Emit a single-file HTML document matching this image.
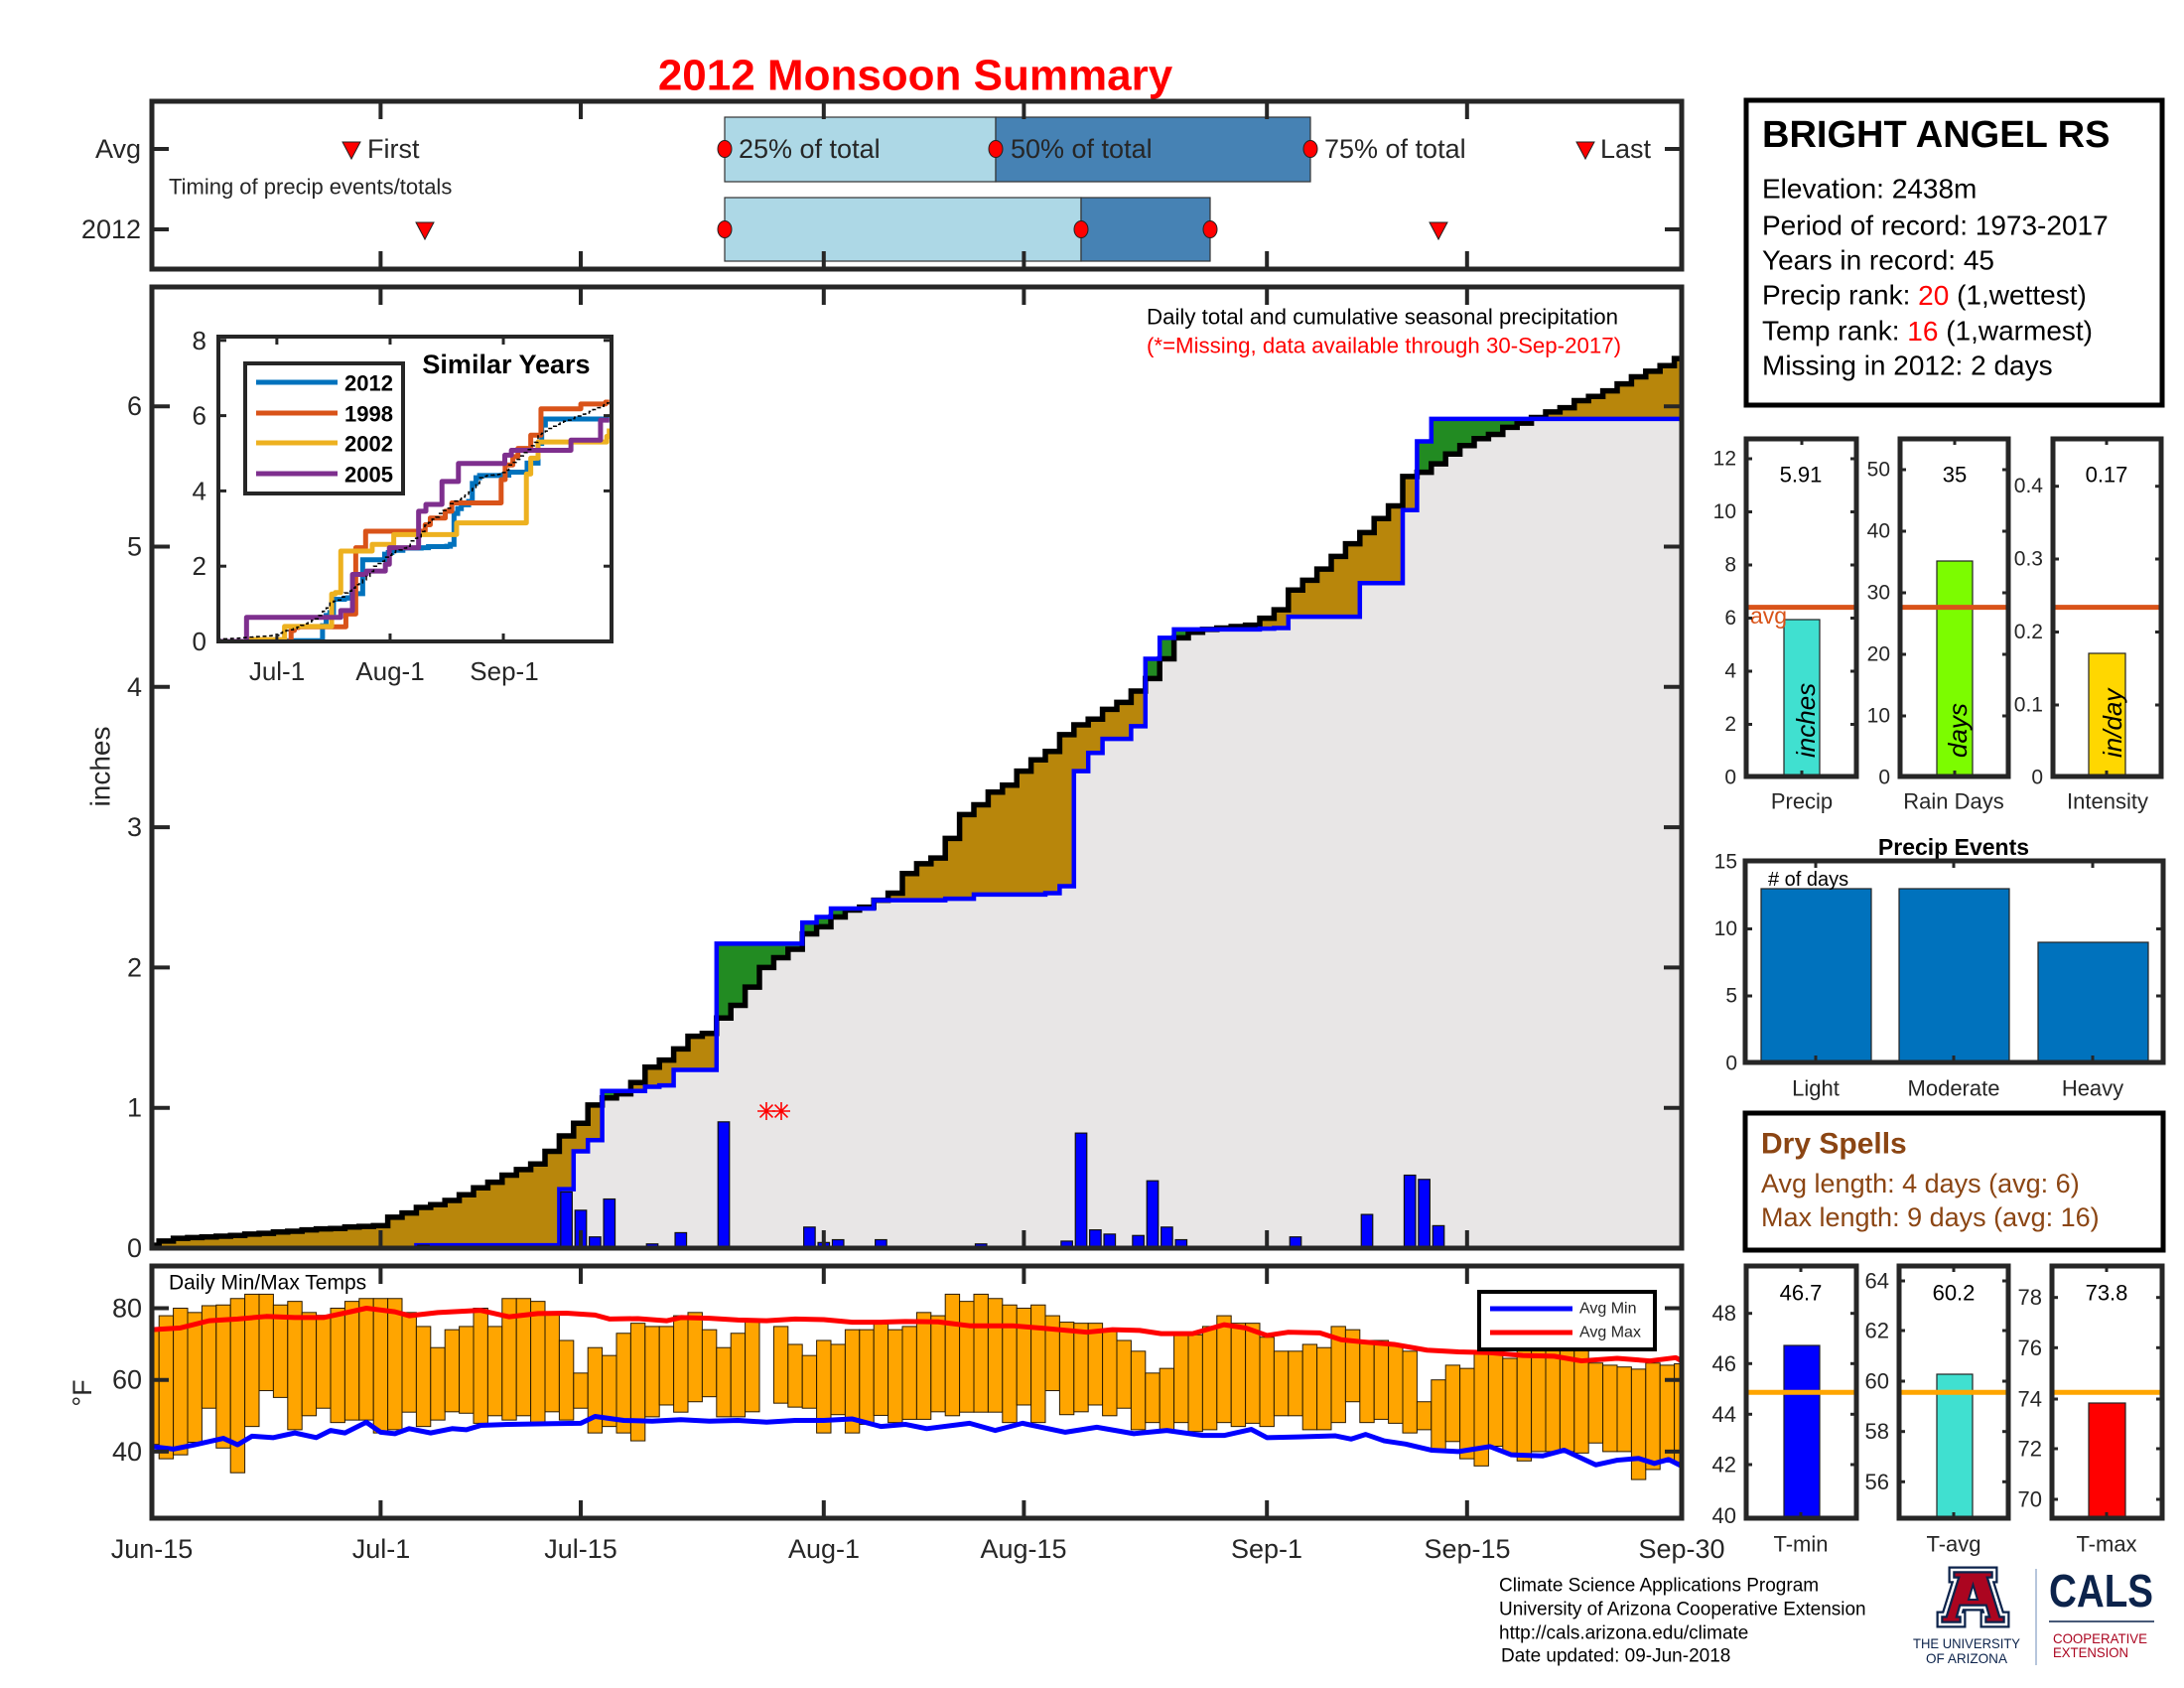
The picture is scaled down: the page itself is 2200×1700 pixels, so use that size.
<!DOCTYPE html>
<html><head><meta charset="utf-8">
<style>
html,body{margin:0;padding:0;background:#fff;width:2200px;height:1700px;overflow:hidden;}
svg{display:block;}
text{font-family:"Liberation Sans",Arial,Helvetica,sans-serif;fill:#262626;}
.c{dominant-baseline:central;}
</style></head><body>
<svg id="s" xmlns="http://www.w3.org/2000/svg" width="2200" height="1700" viewBox="0 0 2200 1700">
<defs>
<clipPath id="cm"><rect x="153" y="289" width="1541" height="968"/></clipPath>
<clipPath id="ct"><rect x="153" y="1275" width="1541" height="254"/></clipPath>
<clipPath id="ci"><rect x="220" y="339" width="396" height="307"/></clipPath>
</defs>
<rect width="2200" height="1700" fill="#fff"/>

<!-- Title -->
<text x="922" y="76" class="c" text-anchor="middle" font-size="44" font-weight="bold" style="fill:#ff0000">2012 Monsoon Summary</text>

<!-- TOP TIMING PANEL -->
<g id="top">
<rect x="730" y="118" width="273" height="65" fill="#add8e6" stroke="#333" stroke-width="1.2"/>
<rect x="1003" y="118" width="317" height="65" fill="#4682b4" stroke="#333" stroke-width="1.2"/>
<rect x="730" y="199" width="359" height="64" fill="#add8e6" stroke="#333" stroke-width="1.2"/>
<rect x="1089" y="199" width="130" height="64" fill="#4682b4" stroke="#333" stroke-width="1.2"/>
<ellipse cx="730" cy="150" rx="7" ry="8.5" fill="#f00" stroke="#222" stroke-width="1"/>
<ellipse cx="1003" cy="150" rx="7" ry="8.5" fill="#f00" stroke="#222" stroke-width="1"/>
<ellipse cx="1320" cy="150" rx="7" ry="8.5" fill="#f00" stroke="#222" stroke-width="1"/>
<ellipse cx="730" cy="231" rx="7" ry="8.5" fill="#f00" stroke="#222" stroke-width="1"/>
<ellipse cx="1089" cy="231" rx="7" ry="8.5" fill="#f00" stroke="#222" stroke-width="1"/>
<ellipse cx="1219" cy="231" rx="7" ry="8.5" fill="#f00" stroke="#222" stroke-width="1"/>
<polygon points="345,143 363,143 354,160" fill="#f00" stroke="#222" stroke-width="1"/>
<polygon points="1588,143 1606,143 1597,160" fill="#f00" stroke="#222" stroke-width="1"/>
<polygon points="419,224 437,224 428,241" fill="#f00" stroke="#222" stroke-width="1"/>
<polygon points="1440,224 1458,224 1449,241" fill="#f00" stroke="#222" stroke-width="1"/>
<text x="370" y="150" class="c" font-size="27">First</text>
<text x="744" y="150" class="c" font-size="27">25% of total</text>
<text x="1018" y="150" class="c" font-size="27">50% of total</text>
<text x="1334" y="150" class="c" font-size="27">75% of total</text>
<text x="1612" y="150" class="c" font-size="27">Last</text>
<text x="170" y="188" class="c" font-size="22">Timing of precip events/totals</text>
<text x="142" y="150" class="c" text-anchor="end" font-size="27">Avg</text>
<text x="142" y="231" class="c" text-anchor="end" font-size="27">2012</text>
<g id="topticks" stroke="#262626" stroke-width="4"></g>
<rect x="153" y="102" width="1541" height="169" fill="none" stroke="#262626" stroke-width="5"/>
</g>

<!-- MAIN PRECIP PANEL -->
<rect x="153" y="289" width="1541" height="968" fill="#fff"/>
<g id="main" clip-path="url(#cm)"></g>
<text x="1155" y="319" class="c" font-size="22" textLength="475" lengthAdjust="spacingAndGlyphs" style="fill:#000">Daily total and cumulative seasonal precipitation</text>
<text x="1155" y="348" class="c" font-size="22" textLength="478" lengthAdjust="spacingAndGlyphs" style="fill:#ff0000">(*=Missing, data available through 30-Sep-2017)</text>
<g id="mainticks" stroke="#262626" stroke-width="4"></g>
<rect x="153" y="289" width="1541" height="968" fill="none" stroke="#262626" stroke-width="5"/>
<text x="143" y="1257" class="c" text-anchor="end" font-size="27">0</text>
<text x="143" y="1115.7" class="c" text-anchor="end" font-size="27">1</text>
<text x="143" y="974.4" class="c" text-anchor="end" font-size="27">2</text>
<text x="143" y="833.1" class="c" text-anchor="end" font-size="27">3</text>
<text x="143" y="691.8" class="c" text-anchor="end" font-size="27">4</text>
<text x="143" y="550.5" class="c" text-anchor="end" font-size="27">5</text>
<text x="143" y="409.2" class="c" text-anchor="end" font-size="27">6</text>
<text x="101" y="772" class="c" text-anchor="middle" font-size="28" transform="rotate(-90 101 772)">inches</text>

<!-- INSET -->
<rect x="220" y="339" width="396" height="307" fill="#fff"/>
<g id="inset" clip-path="url(#ci)"></g>
<g id="insetticks" stroke="#262626" stroke-width="3"></g>
<rect x="220" y="339" width="396" height="307" fill="none" stroke="#262626" stroke-width="4"/>
<text x="208" y="343" class="c" text-anchor="end" font-size="26">8</text>
<text x="208" y="418.6" class="c" text-anchor="end" font-size="26">6</text>
<text x="208" y="494.4" class="c" text-anchor="end" font-size="26">4</text>
<text x="208" y="570.2" class="c" text-anchor="end" font-size="26">2</text>
<text x="208" y="646" class="c" text-anchor="end" font-size="26">0</text>
<text x="279" y="676" class="c" text-anchor="middle" font-size="26">Jul-1</text>
<text x="393" y="676" class="c" text-anchor="middle" font-size="26">Aug-1</text>
<text x="508" y="676" class="c" text-anchor="middle" font-size="26">Sep-1</text>
<text x="510" y="367" class="c" text-anchor="middle" font-size="27" font-weight="bold" style="fill:#000">Similar Years</text>
<rect x="247" y="366" width="159" height="131" fill="#fff" stroke="#262626" stroke-width="4"/>
<line x1="258" y1="385" x2="340" y2="385" stroke="#0072bd" stroke-width="5"/>
<line x1="258" y1="416" x2="340" y2="416" stroke="#d95319" stroke-width="5"/>
<line x1="258" y1="446" x2="340" y2="446" stroke="#edb120" stroke-width="5"/>
<line x1="258" y1="477" x2="340" y2="477" stroke="#7e2f8e" stroke-width="5"/>
<text x="347" y="386" class="c" font-size="22" font-weight="bold" style="fill:#000">2012</text>
<text x="347" y="417" class="c" font-size="22" font-weight="bold" style="fill:#000">1998</text>
<text x="347" y="447" class="c" font-size="22" font-weight="bold" style="fill:#000">2002</text>
<text x="347" y="478" class="c" font-size="22" font-weight="bold" style="fill:#000">2005</text>

<!-- TEMP PANEL -->
<rect x="153" y="1275" width="1541" height="254" fill="#fff"/>
<g id="temp" clip-path="url(#ct)"></g>
<g id="tempticks" stroke="#262626" stroke-width="4"></g>
<rect x="153" y="1275" width="1541" height="254" fill="none" stroke="#262626" stroke-width="5"/>
<text x="170" y="1292" class="c" font-size="21" style="fill:#000">Daily Min/Max Temps</text>
<text x="143" y="1317.5" class="c" text-anchor="end" font-size="27">80</text>
<text x="143" y="1389.7" class="c" text-anchor="end" font-size="27">60</text>
<text x="143" y="1461.9" class="c" text-anchor="end" font-size="27">40</text>
<text x="83" y="1403" class="c" text-anchor="middle" font-size="27" transform="rotate(-90 83 1403)">°F</text>
<rect x="1490" y="1301" width="177" height="58" fill="#fff" stroke="#000" stroke-width="4"/>
<line x1="1501" y1="1318" x2="1584" y2="1318" stroke="#0000ff" stroke-width="5"/>
<line x1="1501" y1="1342" x2="1584" y2="1342" stroke="#ff0000" stroke-width="5"/>
<text x="1591" y="1318" class="c" font-size="16">Avg Min</text>
<text x="1591" y="1342" class="c" font-size="16">Avg Max</text>
<text x="153" y="1560" class="c" text-anchor="middle" font-size="27">Jun-15</text>
<text x="384" y="1560" class="c" text-anchor="middle" font-size="27">Jul-1</text>
<text x="585" y="1560" class="c" text-anchor="middle" font-size="27">Jul-15</text>
<text x="830" y="1560" class="c" text-anchor="middle" font-size="27">Aug-1</text>
<text x="1031" y="1560" class="c" text-anchor="middle" font-size="27">Aug-15</text>
<text x="1276" y="1560" class="c" text-anchor="middle" font-size="27">Sep-1</text>
<text x="1478" y="1560" class="c" text-anchor="middle" font-size="27">Sep-15</text>
<text x="1694" y="1560" class="c" text-anchor="middle" font-size="27">Sep-30</text>

<!-- INFO BOX -->
<rect x="1759" y="101" width="419" height="307" fill="#fff" stroke="#000" stroke-width="5"/>
<text x="1775" y="136" class="c" font-size="38" font-weight="bold" style="fill:#000">BRIGHT ANGEL RS</text>
<text x="1775" y="190" class="c" font-size="28" style="fill:#000">Elevation: 2438m</text>
<text x="1775" y="227" class="c" font-size="28" style="fill:#000">Period of record: 1973-2017</text>
<text x="1775" y="262" class="c" font-size="28" style="fill:#000">Years in record: 45</text>
<text x="1775" y="297" class="c" font-size="28" style="fill:#000">Precip rank: <tspan style="fill:#ff0000">20</tspan> (1,wettest)</text>
<text x="1775" y="333" class="c" font-size="28" style="fill:#000">Temp rank: <tspan style="fill:#ff0000">16</tspan> (1,warmest)</text>
<text x="1775" y="368" class="c" font-size="28" style="fill:#000">Missing in 2012: 2 days</text>

<!-- SMALL PRECIP PANELS -->
<g id="sp">
<rect x="1759" y="442" width="111" height="340" fill="#fff"/>
<rect x="1914" y="442" width="109" height="340" fill="#fff"/>
<rect x="2068" y="442" width="109" height="340" fill="#fff"/>
<rect x="1797" y="624" width="36" height="158" fill="#40e0d0" stroke="#222" stroke-width="1.2"/>
<rect x="1951" y="565" width="36" height="217" fill="#7cfc00" stroke="#222" stroke-width="1.2"/>
<rect x="2104" y="658" width="37" height="124" fill="#ffd700" stroke="#222" stroke-width="1.2"/>
<line x1="1759" y1="611.6" x2="1870" y2="611.6" stroke="#d95319" stroke-width="5"/>
<line x1="1914" y1="611.6" x2="2023" y2="611.6" stroke="#d95319" stroke-width="5"/>
<line x1="2068" y1="611.6" x2="2177" y2="611.6" stroke="#d95319" stroke-width="5"/>
<text x="1763" y="620" class="c" font-size="23" style="fill:#d95319">avg</text>
<text x="1814" y="478" class="c" text-anchor="middle" font-size="22" style="fill:#000">5.91</text>
<text x="1969" y="478" class="c" text-anchor="middle" font-size="22" style="fill:#000">35</text>
<text x="2122" y="478" class="c" text-anchor="middle" font-size="22" style="fill:#000">0.17</text>
<text x="1819" y="763" class="c" font-size="26" font-style="italic" transform="rotate(-90 1819 763)" style="fill:#000">inches</text>
<text x="1972" y="763" class="c" font-size="26" font-style="italic" transform="rotate(-90 1972 763)" style="fill:#000">days</text>
<text x="2128" y="763" class="c" font-size="26" font-style="italic" transform="rotate(-90 2128 763)" style="fill:#000">in/day</text>
<g id="spticks" stroke="#262626" stroke-width="3"></g>
<rect x="1759" y="442" width="111" height="340" fill="none" stroke="#262626" stroke-width="5"/>
<rect x="1914" y="442" width="109" height="340" fill="none" stroke="#262626" stroke-width="5"/>
<rect x="2068" y="442" width="109" height="340" fill="none" stroke="#262626" stroke-width="5"/>
<text x="1749" y="462" class="c" text-anchor="end" font-size="21">12</text>
<text x="1749" y="515.5" class="c" text-anchor="end" font-size="21">10</text>
<text x="1749" y="569" class="c" text-anchor="end" font-size="21">8</text>
<text x="1749" y="622.5" class="c" text-anchor="end" font-size="21">6</text>
<text x="1749" y="676" class="c" text-anchor="end" font-size="21">4</text>
<text x="1749" y="729.5" class="c" text-anchor="end" font-size="21">2</text>
<text x="1749" y="783" class="c" text-anchor="end" font-size="21">0</text>
<text x="1904" y="473" class="c" text-anchor="end" font-size="21">50</text>
<text x="1904" y="535" class="c" text-anchor="end" font-size="21">40</text>
<text x="1904" y="597" class="c" text-anchor="end" font-size="21">30</text>
<text x="1904" y="659" class="c" text-anchor="end" font-size="21">20</text>
<text x="1904" y="721" class="c" text-anchor="end" font-size="21">10</text>
<text x="1904" y="783" class="c" text-anchor="end" font-size="21">0</text>
<text x="2058" y="489.7" class="c" text-anchor="end" font-size="21">0.4</text>
<text x="2058" y="563" class="c" text-anchor="end" font-size="21">0.3</text>
<text x="2058" y="636.5" class="c" text-anchor="end" font-size="21">0.2</text>
<text x="2058" y="710" class="c" text-anchor="end" font-size="21">0.1</text>
<text x="2058" y="783" class="c" text-anchor="end" font-size="21">0</text>
<text x="1815" y="807" class="c" text-anchor="middle" font-size="22">Precip</text>
<text x="1968" y="807" class="c" text-anchor="middle" font-size="22">Rain Days</text>
<text x="2123" y="807" class="c" text-anchor="middle" font-size="22">Intensity</text>
</g>

<!-- PRECIP EVENTS -->
<text x="1968" y="853" class="c" text-anchor="middle" font-size="23" font-weight="bold" style="fill:#000">Precip Events</text>
<rect x="1758" y="867" width="421" height="203" fill="#fff"/>
<rect x="1774" y="895" width="111" height="175" fill="#0072bd" stroke="#222" stroke-width="1.2"/>
<rect x="1913" y="895" width="111" height="175" fill="#0072bd" stroke="#222" stroke-width="1.2"/>
<rect x="2053" y="949" width="111" height="121" fill="#0072bd" stroke="#222" stroke-width="1.2"/>
<g id="peticks" stroke="#262626" stroke-width="3"></g>
<rect x="1758" y="867" width="421" height="203" fill="none" stroke="#262626" stroke-width="5"/>
<text x="1781" y="886" class="c" font-size="20" style="fill:#000"># of days</text>
<text x="1750" y="868" class="c" text-anchor="end" font-size="21">15</text>
<text x="1750" y="935.5" class="c" text-anchor="end" font-size="21">10</text>
<text x="1750" y="1003" class="c" text-anchor="end" font-size="21">5</text>
<text x="1750" y="1071" class="c" text-anchor="end" font-size="21">0</text>
<text x="1829" y="1096" class="c" text-anchor="middle" font-size="22">Light</text>
<text x="1968" y="1096" class="c" text-anchor="middle" font-size="22">Moderate</text>
<text x="2108" y="1096" class="c" text-anchor="middle" font-size="22">Heavy</text>

<!-- DRY SPELLS -->
<rect x="1758" y="1121" width="421" height="138" fill="#fff" stroke="#000" stroke-width="5"/>
<text x="1774" y="1152" class="c" font-size="30" font-weight="bold" style="fill:#8b4513">Dry Spells</text>
<text x="1774" y="1192" class="c" font-size="27" style="fill:#8b4513">Avg length: 4 days (avg: 6)</text>
<text x="1774" y="1226" class="c" font-size="27" style="fill:#8b4513">Max length: 9 days (avg: 16)</text>

<!-- SMALL TEMP PANELS -->
<g>
<rect x="1797" y="1355" width="36" height="174" fill="#0000ff" stroke="#222" stroke-width="1.2"/>
<rect x="1951" y="1384" width="36" height="145" fill="#40e0d0" stroke="#222" stroke-width="1.2"/>
<rect x="2104" y="1413" width="37" height="116" fill="#ff0000" stroke="#222" stroke-width="1.2"/>
<line x1="1759" y1="1402.3" x2="1870" y2="1402.3" stroke="#ffa500" stroke-width="5"/>
<line x1="1913" y1="1402.3" x2="2023" y2="1402.3" stroke="#ffa500" stroke-width="5"/>
<line x1="2067" y1="1402.3" x2="2178" y2="1402.3" stroke="#ffa500" stroke-width="5"/>
<g id="stticks" stroke="#262626" stroke-width="3"></g>
<rect x="1759" y="1275" width="111" height="254" fill="none" stroke="#262626" stroke-width="5"/>
<rect x="1913" y="1275" width="110" height="254" fill="none" stroke="#262626" stroke-width="5"/>
<rect x="2067" y="1275" width="111" height="254" fill="none" stroke="#262626" stroke-width="5"/>
<text x="1814" y="1302" class="c" text-anchor="middle" font-size="22" style="fill:#000">46.7</text>
<text x="1968" y="1302" class="c" text-anchor="middle" font-size="22" style="fill:#000">60.2</text>
<text x="2122" y="1302" class="c" text-anchor="middle" font-size="22" style="fill:#000">73.8</text>
<text x="1749" y="1322.7" class="c" text-anchor="end" font-size="22">48</text>
<text x="1749" y="1373.3" class="c" text-anchor="end" font-size="22">46</text>
<text x="1749" y="1424.3" class="c" text-anchor="end" font-size="22">44</text>
<text x="1749" y="1475" class="c" text-anchor="end" font-size="22">42</text>
<text x="1749" y="1526.7" class="c" text-anchor="end" font-size="22">40</text>
<text x="1903" y="1290" class="c" text-anchor="end" font-size="22">64</text>
<text x="1903" y="1340" class="c" text-anchor="end" font-size="22">62</text>
<text x="1903" y="1391" class="c" text-anchor="end" font-size="22">60</text>
<text x="1903" y="1441.7" class="c" text-anchor="end" font-size="22">58</text>
<text x="1903" y="1492.3" class="c" text-anchor="end" font-size="22">56</text>
<text x="2057" y="1306.7" class="c" text-anchor="end" font-size="22">78</text>
<text x="2057" y="1357.3" class="c" text-anchor="end" font-size="22">76</text>
<text x="2057" y="1409" class="c" text-anchor="end" font-size="22">74</text>
<text x="2057" y="1459" class="c" text-anchor="end" font-size="22">72</text>
<text x="2057" y="1510" class="c" text-anchor="end" font-size="22">70</text>
<text x="1814" y="1555" class="c" text-anchor="middle" font-size="22">T-min</text>
<text x="1968" y="1555" class="c" text-anchor="middle" font-size="22">T-avg</text>
<text x="2122" y="1555" class="c" text-anchor="middle" font-size="22">T-max</text>
</g>

<!-- FOOTER -->
<text x="1510" y="1597" class="c" font-size="19" style="fill:#000">Climate Science Applications Program</text>
<text x="1510" y="1621" class="c" font-size="19" style="fill:#000">University of Arizona Cooperative Extension</text>
<text x="1510" y="1645" class="c" font-size="19" style="fill:#000">http://cals.arizona.edu/climate</text>
<text x="1512" y="1668" class="c" font-size="19" style="fill:#000"> Date updated: 09-Jun-2018</text>

<!-- LOGO -->
<polygon points="1966,1581 2009,1581 2009,1591 2005,1591 2016,1626 2021,1626 2021,1636 1998,1636 1998,1626 2001,1626 1999,1619 1976,1619 1974,1626 1977,1626 1977,1636 1954,1636 1954,1626 1959,1626 1970,1591 1966,1591" fill="#ab0520" stroke="#0c234b" stroke-width="7" stroke-linejoin="miter"/>
<polygon points="1966,1581 2009,1581 2009,1591 2005,1591 2016,1626 2021,1626 2021,1636 1998,1636 1998,1626 2001,1626 1999,1619 1976,1619 1974,1626 1977,1626 1977,1636 1954,1636 1954,1626 1959,1626 1970,1591 1966,1591" fill="none" stroke="#fff" stroke-width="2.5"/>
<polygon points="1987.5,1596 1983,1611 1992,1611" fill="#fff" stroke="#0c234b" stroke-width="2"/>
<text x="1981" y="1655" class="c" text-anchor="middle" font-size="14" textLength="108" lengthAdjust="spacingAndGlyphs" style="fill:#0c234b">THE UNIVERSITY</text>
<text x="1981" y="1670" class="c" text-anchor="middle" font-size="14" textLength="82" lengthAdjust="spacingAndGlyphs" style="fill:#0c234b">OF ARIZONA</text>
<line x1="2051" y1="1580" x2="2051" y2="1677" stroke="#9fb3d1" stroke-width="1.5"/>
<text x="2064" y="1618" font-size="46" font-weight="bold" textLength="105" lengthAdjust="spacingAndGlyphs" style="fill:#0c234b">CALS</text>
<line x1="2064" y1="1633" x2="2170" y2="1633" stroke="#0c234b" stroke-width="1.5"/>
<text x="2068" y="1650" class="c" font-size="14" textLength="95" lengthAdjust="spacingAndGlyphs" style="fill:#ab0520">COOPERATIVE</text>
<text x="2068" y="1664" class="c" font-size="14" textLength="76" lengthAdjust="spacingAndGlyphs" style="fill:#ab0520">EXTENSION</text>
</svg>

<script>
(function(){
var NS='http://www.w3.org/2000/svg';
function mk(p,tag,a){var e=document.createElementNS(NS,tag);for(var k in a)e.setAttribute(k,a[k]);p.appendChild(e);return e;}
function $(id){return document.getElementById(id);}
var X=function(d){return 153+d*14.4;}, Y=function(v){return 1257-v*141.3;};
var XI=function(d){return 220+d*3.68;}, YI=function(v){return 646-v*37.9;};
var YT=function(t){return 1317.5+(80-t)*3.61;};
var A=[0.02,0.05,0.07,0.075,0.08,0.085,0.09,0.10,0.105,0.115,
0.12,0.13,0.137,0.14,0.15,0.155,0.16,0.22,0.25,0.29,
0.31,0.34,0.38,0.43,0.47,0.52,0.56,0.60,0.69,0.80,
0.89,1.02,1.07,1.10,1.18,1.29,1.34,1.42,1.51,1.53,
1.64,1.73,1.86,2.00,2.07,2.13,2.24,2.29,2.36,2.41,
2.43,2.48,2.53,2.67,2.74,2.78,2.92,3.09,3.16,3.25,
3.30,3.40,3.48,3.54,3.66,3.73,3.77,3.84,3.89,3.97,
4.06,4.20,4.35,4.39,4.41,4.42,4.43,4.44,4.49,4.55,
4.69,4.76,4.84,4.93,5.02,5.10,5.20,5.29,5.50,5.53,
5.59,5.66,5.72,5.77,5.80,5.85,5.88,5.92,5.96,5.99,
6.04,6.07,6.11,6.16,6.21,6.25,6.29,6.34];
var P={19:0.02,29:0.40,30:0.27,31:0.08,32:0.35,35:0.03,36:0.01,37:0.11,40:0.90,46:0.15,47:0.04,48:0.06,51:0.06,56:0.01,58:0.03,63:0.01,64:0.05,65:0.82,66:0.13,67:0.10,69:0.09,70:0.48,71:0.15,72:0.06,78:0.005,79:0.005,80:0.08,85:0.24,88:0.52,89:0.49,90:0.16};
var B=[],s=0;for(var d=0;d<=107;d++){s+=(P[d]||0);B.push(s);}
var Mn=[];for(d=0;d<=107;d++)Mn.push(Math.min(A[d],B[d]));

function stairs(arr,d0,x0,fx,fy){var p='M'+x0+','+fy(arr[d0]);for(var d=d0+1;d<arr.length;d++){p+='H'+fx(d-0.5)+'V'+fy(arr[d]);}p+='H'+fx(107);return p;}
function area(arr,d0,x0,fx,fy){var p='M'+x0+','+fy(0)+'V'+fy(arr[d0]);for(var d=d0+1;d<arr.length;d++){p+='H'+fx(d-0.5)+'V'+fy(arr[d]);}p+='H'+fx(107)+'V'+fy(0)+'Z';return p;}

var g=$('main');
mk(g,'path',{d:area(A,0,X(0),X,Y),fill:'#b8860b'});
mk(g,'path',{d:area(B,19,X(18.5),X,Y),fill:'#228b22'});
mk(g,'path',{d:area(Mn,19,X(18.5),X,Y),fill:'#e8e6e6'});
mk(g,'path',{d:stairs(A,0,X(0),X,Y),fill:'none',stroke:'#000','stroke-width':5.5});
mk(g,'path',{d:'M'+X(18.5)+','+Y(0)+stairs(B,19,X(18.5),X,Y).replace(/^M[^HV]*/,'V'+Y(B[19])),fill:'none',stroke:'#0000ff','stroke-width':4.5});
for(var k in P){var v=P[k];if(v<0.004)continue;var dd=+k;
 mk(g,'rect',{x:X(dd-0.4),y:Y(v),width:11.52,height:v*141.3,fill:'#0000ff',stroke:'#111','stroke-width':1.2});}
function star(cx,cy,r){var p='M'+(cx-r)+','+cy+'H'+(cx+r)+'M'+cx+','+(cy-r)+'V'+(cy+r)+'M'+(cx-r*0.72)+','+(cy-r*0.72)+'L'+(cx+r*0.72)+','+(cy+r*0.72)+'M'+(cx-r*0.72)+','+(cy+r*0.72)+'L'+(cx+r*0.72)+','+(cy-r*0.72);
 mk(g,'path',{d:p,stroke:'#ff0000','stroke-width':1.6,fill:'none'});}
star(772,1119,9);star(787,1119,9);

// ticks
var XT=[16,30,47,61,78,92].map(X);
var t=$('topticks');
XT.forEach(function(x){mk(t,'line',{x1:x,y1:102,x2:x,y2:120});mk(t,'line',{x1:x,y1:271,x2:x,y2:253});});
[150,231].forEach(function(y){mk(t,'line',{x1:153,y1:y,x2:170,y2:y});mk(t,'line',{x1:1694,y1:y,x2:1677,y2:y});});
t=$('mainticks');
XT.forEach(function(x){mk(t,'line',{x1:x,y1:289,x2:x,y2:307});mk(t,'line',{x1:x,y1:1257,x2:x,y2:1239});});
for(var i=0;i<=6;i++){var y=Y(i);mk(t,'line',{x1:153,y1:y,x2:171,y2:y});mk(t,'line',{x1:1694,y1:y,x2:1676,y2:y});}
t=$('tempticks');
XT.forEach(function(x){mk(t,'line',{x1:x,y1:1275,x2:x,y2:1293});mk(t,'line',{x1:x,y1:1529,x2:x,y2:1511});});
[80,60,40].forEach(function(v){var y=YT(v);mk(t,'line',{x1:153,y1:y,x2:170,y2:y});mk(t,'line',{x1:1694,y1:y,x2:1677,y2:y});});

// inset
var gi=$('inset');
function bp(arr,col,w){var p='M'+XI(arr[0][0])+','+YI(arr[0][1]);for(var i=1;i<arr.length;i++){p+='H'+XI(arr[i][0])+'V'+YI(arr[i][1]);}p+='H'+XI(107);mk(gi,'path',{d:p,fill:'none',stroke:col,'stroke-width':w,'stroke-linejoin':'round'});}
mk(gi,'path',{d:'M'+XI(18.5)+','+YI(0)+stairs(B,19,XI(18.5),XI,YI).replace(/^M[^HV]*/,'V'+YI(B[19])),fill:'none',stroke:'#0072bd','stroke-width':5});
bp([[0,0],[19.9,0.29],[20.8,0.37],[22,0.39],[34.9,0.73],[37.6,2.49],[40.3,2.93],[56.6,3.1],[58,3.28],[62.1,3.46],[63.9,3.68],[77.4,4.3],[78.5,4.69],[80.6,4.91],[82,5.13],[85.5,5.48],[88.3,6.18],[99.2,6.31],[106,6.36]],'#d95319',5);
bp([[0,0],[8.1,0.05],[18.1,0.4],[31,1.26],[32,1.3],[33.5,2.4],[42.1,2.58],[48,2.84],[65.2,3.15],[84.3,4.45],[85.5,4.87],[87.5,5.3],[106.3,5.45],[107,5.66]],'#edb120',5);
bp([[0,0],[7.7,0.64],[33.5,0.82],[36.7,1.78],[40.5,1.87],[45.7,2.05],[46.8,2.49],[54.8,3.46],[56.8,3.64],[61.2,4.25],[65.7,4.73],[78.4,4.95],[80.2,5.08],[96.5,5.35],[104.6,5.88]],'#7e2f8e',5);
mk(gi,'path',{d:stairs(A,0,XI(0),XI,YI),fill:'none',stroke:'#000','stroke-width':1.5,'stroke-dasharray':'4,3'});
t=$('insetticks');
[16,47,78].forEach(function(d){var x=XI(d);mk(t,'line',{x1:x,y1:339,x2:x,y2:347});mk(t,'line',{x1:x,y1:646,x2:x,y2:638});});
[0,2,4,6,8].forEach(function(v){var y=YI(v);mk(t,'line',{x1:220,y1:y,x2:228,y2:y});mk(t,'line',{x1:616,y1:y,x2:608,y2:y});});

// temp bars
var TX=[74,77.9,80,78.8,80.7,80.9,82.7,83.9,83.9,80.9,81.9,78.8,78,80,81.9,82.7,82.7,82.7,78.8,74.9,
69,74,74.9,80,74.9,82.7,82.7,81.9,79,71,61.9,69,66.8,73,75.8,74.9,74.9,77.9,78.8,74,
69,73,76.3,null,74.9,69.9,66.8,71,69.9,74,74,75.6,74,74.9,78.8,77.9,83.9,81.9,83.9,82.7,
80.9,80,80.9,77.9,76.1,75.8,75.8,74,71,68,61.9,63.2,72.6,72.6,74.9,77.9,75.8,75.8,71.9,68,
68,69.9,69,74.9,74,71,71,69.9,68,53.9,60,64.1,63.2,68,67.4,66,68.2,68.2,68.2,68.2,
68.2,64.7,64.1,63.6,63,64.7,64.1,64.5];
var TN=[42,38,39.1,42.6,52.1,41,34.1,47,57,55.1,46.1,50,52.1,48.1,48.8,48.8,45.2,46.1,51,47,
48.8,51.1,50.7,47.9,50,48.8,50,47.9,51.1,48.8,52.1,45.2,47,45.2,43,49.7,53,51,53.9,55.3,
49.7,49.7,51.1,null,53.5,52.4,52.1,45.2,50.3,45.2,47.6,50.1,48.1,49,49,51.1,50,51,51,51,
48.1,53,48.1,57,50.3,51.1,53,50,52.1,46.1,48.1,46.1,48.1,45.6,46.1,48.1,47,47.9,47,50,
50,46.1,46.1,48.1,53.9,48.1,49,47.9,45.2,46.1,40,42.8,38,36,41.5,39.6,37.4,40,40,40,
39.6,42.4,40,40,32.2,35,37.4,37];
var gt=$('temp');
for(d=0;d<TX.length;d++){if(TX[d]==null)continue;var y1=YT(TX[d]),y2=YT(TN[d]);
 mk(gt,'rect',{x:X(d-0.5),y:y1,width:14.4,height:y2-y1,fill:'#ffa500',stroke:'#2a1a00','stroke-width':1});}
function poly(pts,col){mk(gt,'polyline',{points:pts.map(function(p){return X(p[0])+','+YT(p[1]);}).join(' '),fill:'none',stroke:col,'stroke-width':5,'stroke-linejoin':'round'});}
poly([[0,74],[2,74.5],[4,76.5],[6,77],[8,77.7],[10,77.4],[12,77.4],[14,79.1],[15,80],[17,79],[18,77.9],[20,78.8],[23,79.4],[25,77.6],[27,78.5],[29,78.6],[31,78.1],[32,77],[34,77.1],[36,76.5],[37,77.4],[39,77.2],[41,76.7],[43,76.5],[45,77],[47,76.8],[49,76.1],[51,76.1],[52.7,76.3],[55,76.2],[57.2,75.1],[60.2,75.1],[62.4,74.4],[65.4,73.3],[67.2,74],[69.1,73.8],[70.6,72.9],[72.8,72.9],[75,75.4],[76.5,74.5],[78,72.4],[79.5,73.3],[81.7,73.1],[83.2,71.2],[84.7,70.6],[86.9,69.9],[89.2,68.3],[91.4,67.8],[93.6,67.6],[95.9,66.8],[98.1,66.6],[100,65.3],[102.5,66],[104.8,65.3],[106.6,66.2],[107,65.3]],'#ff0000');
poly([[0,41.4],[1.5,40.7],[3,41.9],[5,43.7],[6,41.9],[7,44.3],[8.5,43.9],[10,45.2],[11.5,43.9],[12.5,45.9],[13.5,45.2],[15,48.2],[16,45.4],[17,45],[18,46.4],[19.5,45.2],[21,46.4],[22,46.1],[23,47.3],[25,47.6],[28,47.8],[30,47.9],[31,49.8],[33,48.7],[35,48.5],[37,48.9],[39,48.5],[41,48.7],[43,48.2],[45,48.7],[47,48.7],[49,49.1],[51,47],[52.7,47.6],[54.2,46.4],[57.2,47.9],[59,45.9],[60.9,47.9],[63.9,45.4],[66.1,46.8],[68.7,45],[71,45.9],[73.5,44.5],[75,44.5],[76.9,46.2],[78,43.9],[80.2,44.1],[82.8,44.4],[83.9,43.5],[84.9,44.8],[86.2,43],[87.7,42.1],[89.5,40.4],[91.4,40],[93.6,41.4],[95.1,39.1],[97.3,38.8],[98.8,40.4],[101,36.3],[102.5,37.6],[104,38.1],[105.1,36.7],[106.1,37.8],[107,36]],'#0000ff');

// small precip panel ticks
t=$('spticks');
function sideTicks(x1,x2,ys,len){ys.forEach(function(y){mk(t,'line',{x1:x1,y1:y,x2:x1+len,y2:y});mk(t,'line',{x1:x2,y1:y,x2:x2-len,y2:y});});}
sideTicks(1759,1870,[462,515.5,569,622.5,676,729.5],6);
sideTicks(1914,2023,[473,535,597,659,721],6);
sideTicks(2068,2177,[489.7,563,636.5,710],6);
[[1815,442,782],[1969,442,782],[2122,442,782]].forEach(function(a){mk(t,'line',{x1:a[0],y1:a[1],x2:a[0],y2:a[1]+6});mk(t,'line',{x1:a[0],y1:a[2],x2:a[0],y2:a[2]-6});});
t=$('peticks');
[1829,1968,2108].forEach(function(x){mk(t,'line',{x1:x,y1:867,x2:x,y2:874});mk(t,'line',{x1:x,y1:1070,x2:x,y2:1063});});
[935.5,1003].forEach(function(y){mk(t,'line',{x1:1758,y1:y,x2:1765,y2:y});mk(t,'line',{x1:2179,y1:y,x2:2172,y2:y});});
t=$('stticks');
function sideT(x1,x2,ys){ys.forEach(function(y){mk(t,'line',{x1:x1,y1:y,x2:x1+6,y2:y});mk(t,'line',{x1:x2,y1:y,x2:x2-6,y2:y});});}
sideT(1759,1870,[1322.7,1373.3,1424.3,1475]);
sideT(1913,2023,[1290,1340,1391,1441.7,1492.3]);
sideT(2067,2178,[1306.7,1357.3,1409,1459,1510]);
[1814,1968,2122].forEach(function(x){mk(t,'line',{x1:x,y1:1275,x2:x,y2:1281});mk(t,'line',{x1:x,y1:1529,x2:x,y2:1523});});
})();
</script>
</body></html>
